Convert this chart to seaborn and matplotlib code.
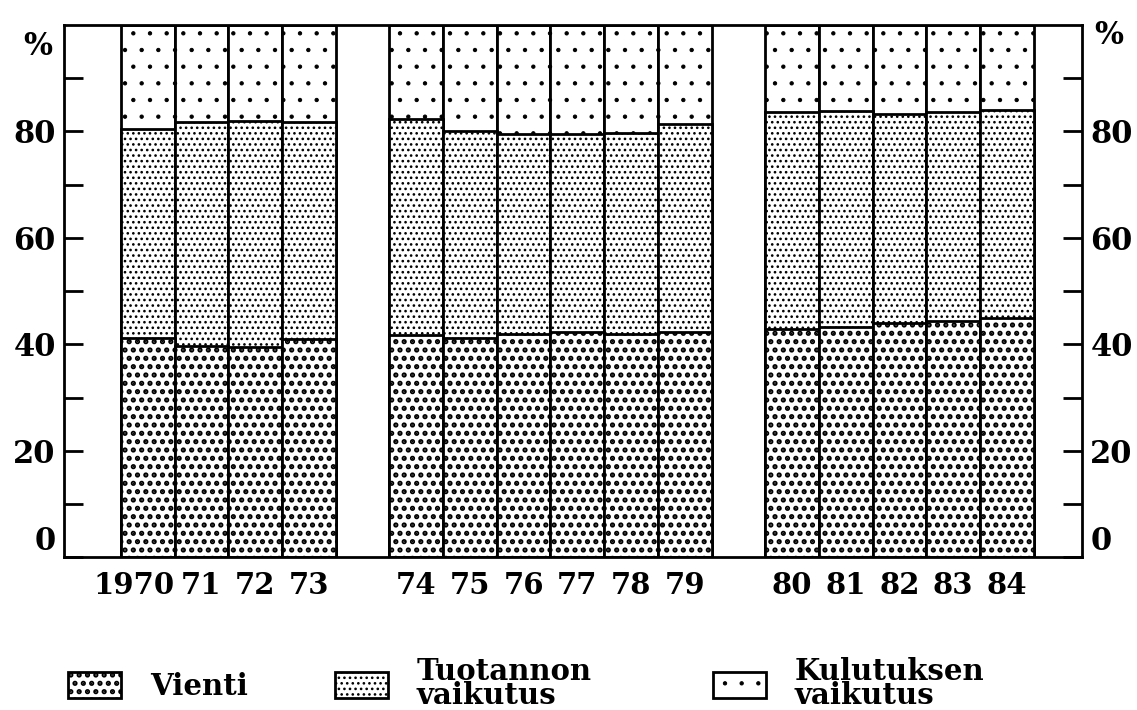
import numpy as np
import pandas as pd
import matplotlib
matplotlib.use("Agg")
import matplotlib.pyplot as plt
from matplotlib.patches import Patch
from matplotlib.transforms import ScaledTranslation
import seaborn as sns

# Kasvun lahteet: vienti, tuotannon ja kulutuksen vaikutus (%), 1970-84
VUODET = ["1970", "71", "72", "73", "74", "75", "76", "77", "78", "79",
          "80", "81", "82", "83", "84"]
VIENTI = [41.3, 39.8, 39.6, 41.1, 41.7, 41.2, 42.0, 42.4, 41.9, 42.3,
          42.9, 43.2, 44.0, 44.4, 44.9]
TUOTANNON = [39.1, 41.9, 42.4, 40.7, 40.6, 38.9, 37.6, 37.1, 37.9, 39.2,
             40.8, 40.7, 39.2, 39.3, 39.1]
KULUTUKSEN = [19.6, 18.3, 18.0, 18.2, 17.7, 19.9, 20.4, 20.5, 20.2, 18.5,
              16.3, 16.1, 16.8, 16.3, 16.0]

# jarjestys tyhjine valeineen ryhmien valissa
JARJESTYS = VUODET[:4] + ["_v1"] + VUODET[4:10] + ["_v2"] + VUODET[10:]

SELITE = ["Vienti", "Tuotannon\nvaikutus", "Kulutuksen\nvaikutus"]
KUVIOT = ["..", "...", "."]
KUVIO_LW = [2.5, 1.1, 0.7]

sns.set_style("white")
plt.rcParams["font.family"] = ["DejaVu Serif"]
plt.rcParams["font.weight"] = "bold"
plt.rcParams["text.color"] = "black"
plt.rcParams["xtick.color"] = "black"
plt.rcParams["ytick.color"] = "black"
plt.rcParams["hatch.color"] = "black"

df = pd.DataFrame({"vuosi": VUODET, "vienti": VIENTI,
                   "tuotannon": TUOTANNON, "kulutuksen": KULUTUKSEN})
df["kert_tuot"] = df["vienti"] + df["tuotannon"]
df["kert_kaikki"] = df["kert_tuot"] + df["kulutuksen"]

fig = plt.figure(figsize=(11.37, 7.10), dpi=100)
ax = fig.add_axes([0.0563, 0.2148, 0.8953, 0.75])

# pinotut pylvaat: piirretaan korkein ensin, sitten kertymat paalle
kerrokset = [("kert_kaikki", 2), ("kert_tuot", 1), ("vienti", 0)]
for sarake, i in kerrokset:
    n_ennen = len(ax.patches)
    sns.barplot(data=df, x="vuosi", y=sarake, order=JARJESTYS, ax=ax,
                color="white", saturation=1, width=1.0, edgecolor="black",
                linewidth=2, hatch=KUVIOT[i], errorbar=None)
    for p in ax.patches[n_ennen:]:
        p.set_facecolor("white")
        if hasattr(p, "set_hatch_linewidth"):
            p.set_hatch_linewidth(KUVIO_LW[i])

ax.set_xlim(-1.56, 17.4)
ax.set_ylim(0, 100)
ax.set_xlabel("")
ax.set_ylabel("")

ax.set_xticks(range(len(JARJESTYS)))
ax.set_xticklabels([("" if v.startswith("_") else v) for v in JARJESTYS])
ax.tick_params(axis="x", length=0, pad=10, labelsize=21)
# 1970 hieman vasemmalle kuten alkuperaisessa
siirto = ScaledTranslation(-14 / 100, 0, fig.dpi_scale_trans)
for lbl in ax.get_xticklabels():
    if lbl.get_text() == "1970":
        lbl.set_transform(lbl.get_transform() + siirto)

ax.set_yticks([0, 20, 40, 60, 80])
ax.set_yticks([10, 30, 50, 70, 90], minor=True)
ax.tick_params(axis="y", which="both", direction="in", length=14, width=2,
               left=True, right=True, labelleft=True, labelright=True,
               labelsize=22, pad=6)
for lbl in ax.get_yticklabels(which="major"):
    if lbl.get_text() == "0":
        lbl.set_va("bottom")

for s in ax.spines.values():
    s.set_visible(True)
    s.set_linewidth(2)
    s.set_color("black")

# prosenttimerkit akselien ylapaahan
ax.text(-0.012, 96.0, "%", transform=ax.get_yaxis_transform(),
        ha="right", va="center", fontsize=22, fontweight="bold")
ax.text(1.012, 98.0, "%", transform=ax.get_yaxis_transform(),
        ha="left", va="center", fontsize=22, fontweight="bold")

# selitteet alareunaan
paikat = [(68, 672), (335, 657), (713, 657)]
for i, (px, py) in enumerate(paikat):
    kahva = Patch(facecolor="white", edgecolor="black", linewidth=2,
                  hatch=KUVIOT[i])
    if hasattr(kahva, "set_hatch_linewidth"):
        kahva.set_hatch_linewidth(KUVIO_LW[i])
    leg = fig.legend(handles=[kahva], labels=[SELITE[i]], loc="upper left",
                     bbox_to_anchor=(px / 1137, 1 - py / 710), frameon=False,
                     fontsize=21, handlelength=1.8, handleheight=1.0,
                     handletextpad=1.0, borderpad=0, borderaxespad=0)
    for t in leg.get_texts():
        t.set_linespacing(0.78)
    for h in leg.legend_handles:
        if hasattr(h, "set_hatch_linewidth"):
            h.set_hatch_linewidth(KUVIO_LW[i])

fig.savefig("out.png", dpi=100)
